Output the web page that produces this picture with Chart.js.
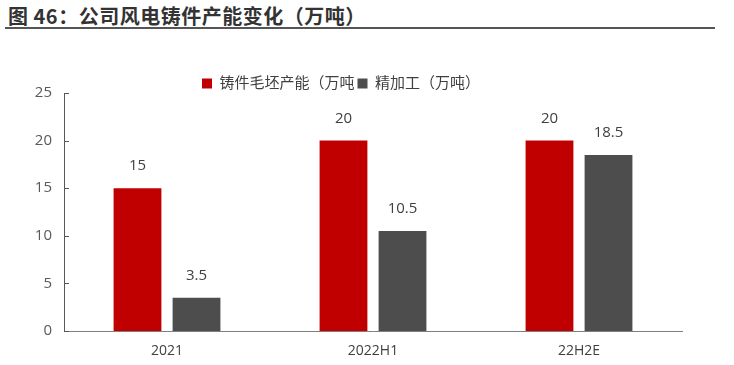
<!DOCTYPE html>
<html>
<head>
<meta charset="utf-8">
<script src="https://cdn.jsdelivr.net/npm/chart.js@4.4.0/dist/chart.umd.min.js"></script>
<style>
    body { margin: 0; background: #fff; }
    #wrap { position: relative; width: 734px; height: 365px; overflow: hidden; }
    #title {
        position: absolute; left: 8px; top: 4px;
        font: bold 20px "Noto Sans CJK SC", sans-serif; color: #333;
        letter-spacing: 0.5px; line-height: 24px;
    }
    #rule { position: absolute; left: 5px; top: 27px; width: 710px; height: 2px; background: #555; }
    #chart { position: absolute; left: 0; top: 0; }
</style>
</head>
<body>
<div id="wrap">
    <div id="title">图 46：公司风电铸件产能变化（万吨）</div>
    <div id="rule"></div>
    <canvas id="chart" width="734" height="365"></canvas>
</div>
<script>
const categories = ['2021', '2022H1', '22H2E'];
const blankCapacity = [15, 20, 20];
const finishing = [3.5, 10.5, 18.5];
const seriesNames = ['铸件毛坯产能（万吨', '精加工（万吨）'];
const yTicks = [0, 5, 10, 15, 20, 25];

const FONT = '"Open Sans", "Noto Sans CJK SC", sans-serif';

// values above bars
const valueLabels = {
    id: 'valueLabels',
    afterDatasetsDraw(chart) {
        const ctx = chart.ctx;
        ctx.save();
        ctx.font = '15px ' + FONT;
        ctx.fillStyle = '#404040';
        ctx.textAlign = 'center';
        ctx.textBaseline = 'middle';
        chart.data.datasets.forEach((ds, i) => {
            chart.getDatasetMeta(i).data.forEach((bar, j) => {
                ctx.fillText(String(ds.data[j]), bar.x, bar.y - 22);
            });
        });
        ctx.restore();
    }
};

// small tick marks pointing into the plot
const innerTicks = {
    id: 'innerTicks',
    afterDraw(chart) {
        const y = chart.scales.y;
        const ctx = chart.ctx;
        ctx.save();
        ctx.strokeStyle = '#595959';
        ctx.lineWidth = 1;
        yTicks.forEach(v => {
            const py = Math.round(y.getPixelForValue(v)) + 0.5;
            ctx.beginPath();
            ctx.moveTo(y.right, py);
            ctx.lineTo(y.right + 5, py);
            ctx.stroke();
        });
        ctx.restore();
    }
};

// legend sits closer to the plot than chart.js leaves room for
const nudgeLegend = {
    id: 'nudgeLegend',
    afterLayout(chart) {
        chart.legend.top += 8;
        chart.legend.bottom += 8;
    }
};

new Chart(document.getElementById('chart').getContext('2d'), {
    type: 'bar',
    data: {
        labels: categories,
        datasets: [{
            label: seriesNames[0],
            data: blankCapacity,
            backgroundColor: '#C00000'
        }, {
            label: seriesNames[1],
            data: finishing,
            backgroundColor: '#4D4D4D'
        }]
    },
    options: {
        responsive: false,
        animation: false,
        categoryPercentage: 0.573,
        barPercentage: 0.81,
        layout: { padding: { left: 0, right: 52, top: 65, bottom: 0 } },
        plugins: {
            legend: {
                position: 'top',
                labels: {
                    boxWidth: 10,
                    boxHeight: 10,
                    padding: 3,
                    color: '#404040',
                    font: { size: 15, family: FONT }
                }
            },
            tooltip: { enabled: false }
        },
        scales: {
            x: {
                grid: { display: false, drawTicks: false },
                border: { display: true, color: '#7f7f7f', width: 1 },
                ticks: {
                    padding: 12,
                    color: '#404040',
                    font: { size: 14, family: FONT }
                },
                afterFit(scale) { scale.height = 34; }
            },
            y: {
                min: 0,
                max: 25,
                grid: { display: false, drawTicks: false },
                border: { display: true, color: '#595959', width: 1 },
                ticks: {
                    stepSize: 5,
                    padding: 12,
                    color: '#595959',
                    font: { size: 15, family: FONT }
                },
                afterFit(scale) { scale.width = 64; }
            }
        }
    },
    plugins: [valueLabels, innerTicks, nudgeLegend]
});
</script>
</body>
</html>
